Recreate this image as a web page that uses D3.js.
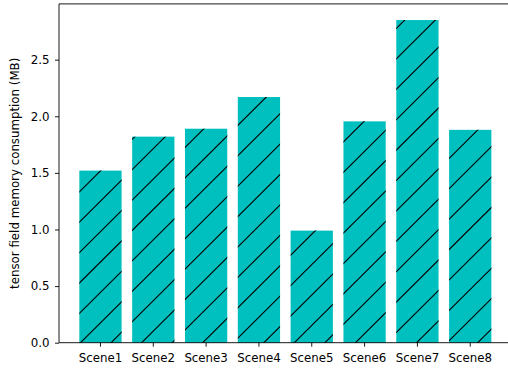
<!DOCTYPE html>
<html>
<head>
<meta charset="utf-8">
<script src="https://cdn.jsdelivr.net/npm/d3@7"></script>
<style>
  html, body { margin: 0; padding: 0; background: #fff; }
  svg { display: block; }
  text { font-family: "DejaVu Sans", sans-serif; }
</style>
</head>
<body>
<script>
const categories = ["Scene1", "Scene2", "Scene3", "Scene4", "Scene5", "Scene6", "Scene7", "Scene8"];
const memoryMB = [1.52, 1.82, 1.89, 2.17, 0.99, 1.955, 2.85, 1.88];
const yTicks = [0.0, 0.5, 1.0, 1.5, 2.0, 2.5];
const yLabel = "tensor field memory consumption (MB)";

const W = 508, H = 370;
const mLeft = 59, mRight = 511.7, mTop = 3.9, mBottom = 342.7;
const FS = 11.8;

const svg = d3.select("body").append("svg").attr("width", W).attr("height", H);

const x = d3.scaleBand().domain(categories).range([mLeft, mRight])
  .paddingInner(0.2).paddingOuter(0.385);
const y = d3.scaleLinear().domain([0, d3.max(memoryMB) * 1.05]).range([mBottom, mTop]);

// clip for hatch
const defs = svg.append("defs");
const clip = defs.append("clipPath").attr("id", "barsClip");
clip.selectAll("rect").data(categories).join("rect")
  .attr("x", d => x(d)).attr("width", x.bandwidth())
  .attr("y", (d, i) => y(memoryMB[i])).attr("height", (d, i) => y(0) - y(memoryMB[i]));

svg.append("g").selectAll("rect").data(categories).join("rect")
  .attr("x", d => x(d)).attr("width", x.bandwidth())
  .attr("y", (d, i) => y(memoryMB[i])).attr("height", (d, i) => y(0) - y(memoryMB[i]))
  .attr("fill", "#00bfbf");

// hatch '/' lines
const slope = 0.995, spacing = 30.4, phase = 27.6;
const offsets = d3.range(phase, 900, spacing);
svg.append("g").attr("clip-path", "url(#barsClip)")
  .selectAll("line").data(offsets).join("line")
  .attr("x1", 0).attr("y1", c => c)
  .attr("x2", 520).attr("y2", c => c - slope * 520)
  .attr("stroke", "#000").attr("stroke-width", 1.1);

// axes
const yAxis = d3.axisLeft(y).tickValues(yTicks).tickFormat(d3.format(".1f"))
  .tickSize(4).tickPadding(5.5);
const gy = svg.append("g").attr("transform", `translate(${mLeft},0)`).call(yAxis);
gy.select(".domain").remove();

const xAxis = d3.axisBottom(x).tickSize(4).tickPadding(6.5).tickSizeOuter(0);
const gx = svg.append("g").attr("transform", `translate(0,${mBottom})`).call(xAxis);
gx.select(".domain").remove();

[gx, gy].forEach(g => {
  g.selectAll("text").attr("font-size", FS).attr("fill", "#000")
    .style("font-family", "'DejaVu Sans', sans-serif");
  g.selectAll(".tick line").attr("stroke", "#000").attr("stroke-width", 0.9);
});

// spines
const sp = svg.append("g").attr("stroke", "#000").attr("stroke-width", 0.9).attr("fill", "none");
sp.append("line").attr("x1", mLeft).attr("x2", mLeft).attr("y1", mTop).attr("y2", mBottom);
sp.append("line").attr("x1", mLeft).attr("x2", mRight).attr("y1", mTop).attr("y2", mTop);
sp.append("line").attr("x1", mLeft).attr("x2", mRight).attr("y1", mBottom).attr("y2", mBottom);
sp.append("line").attr("x1", mRight).attr("x2", mRight).attr("y1", mTop).attr("y2", mBottom);

// y label
svg.append("text")
  .attr("transform", `translate(19,${(mTop + mBottom) / 2}) rotate(-90)`)
  .attr("text-anchor", "middle")
  .attr("font-size", FS).attr("fill", "#000")
  .text(yLabel);
</script>
</body>
</html>
